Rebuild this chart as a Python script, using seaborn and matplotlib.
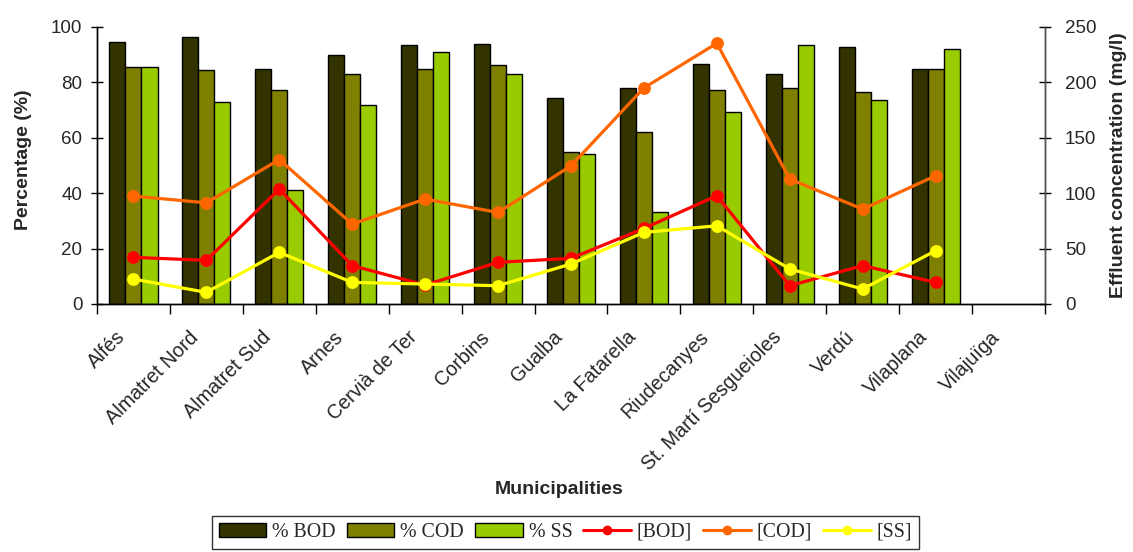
import numpy as np
import pandas as pd
import matplotlib
matplotlib.use("Agg")
import matplotlib.pyplot as plt
import matplotlib.transforms as mtransforms
import seaborn as sns
from matplotlib.patches import Patch
from matplotlib.lines import Line2D

# ── Data ────────────────────────────────────────────────────
municipalities = ["Alfés", "Almatret Nord", "Almatret Sud", "Arnes", "Cervià de Ter",
                  "Corbins", "Gualba", "La Fatarella", "Riudecanyes",
                  "St. Martí Sesgueioles", "Verdú", "Vilaplana", "Vilajuïga"]

pct_bod = [94.5, 96.3, 85.0, 89.8, 93.4, 94.0, 74.2, 77.8, 86.8, 83.2, 92.7, 84.9, np.nan]
pct_cod = [85.5, 84.3, 77.2, 83.1, 84.9, 86.1, 54.8, 62.1, 77.2, 77.8, 76.6, 84.9, np.nan]
pct_ss  = [85.5, 73.0, 41.1, 71.8, 90.9, 83.1, 54.3, 33.3, 69.4, 93.4, 73.7, 92.1, np.nan]

conc_bod = [42.1, 39.4, 103.7, 34.6, 17.1, 37.6, 41.2, 68.2, 97.7, 16.5, 34.6, 19.5, np.nan]
conc_cod = [97.4, 91.3, 130.4, 72.1, 94.7, 82.6, 124.7, 195.0, 235.3, 112.7, 85.6, 115.7, np.nan]
conc_ss  = [22.5, 10.5, 46.6, 19.5, 18.0, 16.5, 36.1, 64.6, 70.6, 31.6, 13.5, 48.1, np.nan]

bar_names = ["% BOD", "% COD", "% SS"]
line_names = ["[BOD]", "[COD]", "[SS]"]
bar_colors = ["#333300", "#808000", "#99CC00"]
line_colors = ["#FF0000", "#FF6600", "#FFFF00"]

bars = pd.DataFrame({"Municipality": municipalities * 3,
                     "Parameter": np.repeat(bar_names, len(municipalities)),
                     "value": pct_bod + pct_cod + pct_ss})
lines = pd.DataFrame({"Municipality": municipalities * 3,
                      "Parameter": np.repeat(line_names, len(municipalities)),
                      "value": conc_bod + conc_cod + conc_ss})

# ── Plot ────────────────────────────────────────────────────
sns.set_theme(style="white")
plt.rcParams["font.family"] = ["Liberation Sans", "DejaVu Sans"]

fig = plt.figure(figsize=(11.33, 5.52), dpi=100)
ax = fig.add_axes([0.0856, 0.4493, 0.8367, 0.5018])

sns.barplot(data=bars.dropna(), x="Municipality", y="value", hue="Parameter",
            order=municipalities, hue_order=bar_names, palette=bar_colors,
            width=0.66, edgecolor="black", linewidth=1, saturation=1,
            legend=False, ax=ax)

ax2 = ax.twinx()
sns.pointplot(data=lines.dropna(), x="Municipality", y="value", hue="Parameter",
              order=municipalities, hue_order=line_names, palette=line_colors,
              markers="o", markersize=7.5, linewidth=2.3, dodge=False,
              errorbar=None, legend=False, ax=ax2)

ax.set_xlim(-0.5, len(municipalities) - 0.5)
ax.set_ylim(0, 100)
ax2.set_ylim(0, 250)
ax.set_yticks(range(0, 101, 20))
ax2.set_yticks(range(0, 251, 50))

ax.set_xticks(range(len(municipalities)))
ax.set_xticks(np.arange(-0.5, len(municipalities), 1), minor=True)
ax.tick_params(axis="x", which="major", length=0, pad=17)
ax.tick_params(axis="x", which="minor", length=7, width=1, color="black", direction="out", bottom=True)
ax.tick_params(axis="y", length=9, width=1, color="black", direction="inout", labelsize=13.5, left=True, pad=6)
ax2.tick_params(axis="y", length=9, width=1, color="black", direction="inout", labelsize=13.5, right=True, pad=10)
ax.set_xticklabels(municipalities, rotation=45, ha="right", va="top",
                   rotation_mode="anchor", fontsize=14.2)
# category labels sit a little left of the category centre, as in the original
shift = mtransforms.ScaledTranslation(-18 / 100, 0, fig.dpi_scale_trans)
for lbl in ax.get_xticklabels():
    lbl.set_transform(lbl.get_transform() + shift)

for a in (ax, ax2):
    a.spines["top"].set_visible(False)
    for s in ("left", "right", "bottom"):
        a.spines[s].set_color("black")
        a.spines[s].set_linewidth(1)
ax2.spines["right"].set_color("#555555")

ax.set_xlabel("Municipalities", fontsize=14, fontweight="bold")
ax.xaxis.set_label_coords(0.487, -0.638)
ax.set_ylabel("Percentage (%)", fontsize=14, fontweight="bold")
ax.yaxis.set_label_coords(-0.0686, 0.52)
ax2.set_ylabel("Effluent concentration (mg/l)", fontsize=14, fontweight="bold")
ax2.yaxis.set_label_coords(1.069, 0.5)

handles = [Patch(facecolor=c, edgecolor="black", linewidth=1) for c in bar_colors]
handles += [Line2D([0], [0], color=c, lw=2.2, marker="o", markersize=6) for c in line_colors]
leg = fig.legend(handles, bar_names + line_names, loc="lower center",
                 bbox_to_anchor=(0.499, -0.012), ncol=6, frameon=True, fancybox=False,
                 handlelength=2.4, handletextpad=0.3, columnspacing=0.55,
                 borderpad=0.35, prop={"family": "Liberation Serif", "size": 14.3})
leg.get_frame().set_edgecolor("black")
leg.get_frame().set_linewidth(1)

fig.savefig("out.png", dpi=100)
